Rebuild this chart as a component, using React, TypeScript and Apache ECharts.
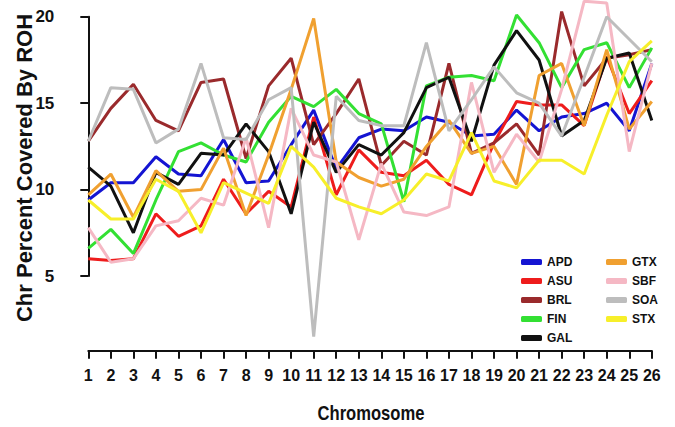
import React, { useEffect, useRef } from "react";
import * as echarts from "echarts";

const chromosomes = Array.from({ length: 26 }, (_, i) => String(i + 1));
const yTicks = [5, 10, 15, 20];

const APD = [9.4, 10.4, 10.4, 11.9, 10.9, 10.8, 12.9, 10.4, 10.5, 12.6, 14.6, 11.2, 13.0, 13.5, 13.4, 14.2, 13.9, 13.1, 13.2, 14.6, 13.4, 14.2, 14.4, 15.0, 13.4, 17.3];
const ASU = [6.0, 5.9, 6.0, 8.6, 7.3, 7.9, 10.6, 8.6, 9.9, 9.0, 14.2, 9.7, 12.3, 11.0, 10.8, 11.7, 10.3, 9.7, 12.7, 15.1, 14.9, 14.9, 13.7, 17.7, 14.4, 16.3];
const BRL = [12.8, 14.7, 16.1, 14.0, 13.4, 16.2, 16.4, 11.8, 16.0, 17.6, 12.6, 14.4, 16.4, 11.4, 12.8, 12.0, 17.3, 12.1, 12.7, 13.8, 12.0, 20.3, 16.0, 17.6, 17.8, 18.1];
const FIN = [6.6, 7.7, 6.3, 9.4, 12.2, 12.7, 12.0, 11.6, 13.9, 15.4, 14.8, 15.8, 14.4, 13.8, 9.3, 16.0, 16.5, 16.6, 16.3, 20.1, 18.5, 15.9, 18.1, 18.5, 15.9, 18.2];
const GAL = [11.3, 10.2, 7.5, 11.0, 10.3, 12.1, 12.0, 13.8, 12.2, 8.6, 13.9, 11.0, 12.6, 12.0, 13.3, 15.9, 16.5, 12.8, 17.2, 19.2, 17.5, 13.1, 14.0, 17.6, 17.9, 14.0];
const GTX = [9.7, 10.9, 8.4, 11.1, 9.9, 10.0, 12.4, 8.5, 12.0, 15.8, 19.9, 11.6, 10.7, 10.2, 10.6, 12.5, 14.0, 12.1, 12.5, 10.3, 16.6, 17.3, 13.7, 18.1, 13.5, 15.1];
const SBF = [7.8, 5.8, 6.0, 7.9, 8.2, 9.5, 9.1, 13.0, 7.8, 14.7, 12.0, 11.6, 7.1, 11.5, 8.7, 8.5, 9.0, 16.2, 11.0, 13.2, 11.6, 15.8, 20.9, 20.8, 12.2, 17.3];
const SOA = [12.8, 15.9, 15.8, 12.7, 13.5, 17.3, 13.0, 12.9, 15.2, 15.9, 1.5, 15.4, 14.0, 13.7, 13.7, 18.5, 13.4, 15.2, 17.1, 15.6, 15.0, 13.1, 16.5, 20.0, 18.7, 17.4];
const STX = [9.4, 8.3, 8.3, 10.6, 9.9, 7.5, 10.4, 9.8, 9.2, 12.5, 11.3, 9.5, 9.0, 8.6, 9.4, 10.9, 10.5, 13.3, 10.5, 10.1, 11.7, 11.7, 10.9, 14.3, 17.4, 18.6];

const seriesNames = ["APD", "ASU", "BRL", "FIN", "GAL", "GTX", "SBF", "SOA", "STX"];
const seriesData = [APD, ASU, BRL, FIN, GAL, GTX, SBF, SOA, STX];
const seriesColors = ["#1414d2", "#ee1c1c", "#9a2a2c", "#33e033", "#111111", "#f0a030", "#f5b8c4", "#bdbdbd", "#f7ef2a"];

const FONT = "'Liberation Sans', Arial, sans-serif";

export default function App() {
  const ref = useRef<HTMLDivElement>(null);
  useEffect(() => {
    if (!ref.current) return;
    const chart = echarts.init(ref.current, undefined, { renderer: "svg" });
    const legendText = { fontFamily: FONT, fontWeight: "bold", fontSize: 12, color: "#111", lineHeight: 14 };
    const legendBase = {
      orient: "vertical",
      top: 255,
      padding: 0,
      icon: "roundRect",
      itemWidth: 21,
      itemHeight: 6,
      itemGap: 5,
      textStyle: legendText,
    };
    chart.setOption({
      animation: false,
      backgroundColor: "#ffffff",
      grid: [
        { left: 88.3, right: 23.2, top: 0, bottom: 76.3 },
        { left: 88.3, right: 23.2, top: 16.7, bottom: 151 },
      ],
      xAxis: [
        {
          gridIndex: 0,
          type: "category",
          data: chromosomes,
          boundaryGap: false,
          axisLine: { show: true, lineStyle: { color: "#111", width: 2 } },
          axisTick: { show: true, length: 8, lineStyle: { color: "#111", width: 2 } },
          axisLabel: { fontFamily: FONT, fontWeight: "bold", fontSize: 16, color: "#111", margin: 17, interval: 0 },
          splitLine: { show: false },
        },
        { gridIndex: 1, type: "value", min: 0, max: 1, show: false },
      ],
      yAxis: [
        { gridIndex: 0, type: "value", min: 0.68, max: 20.97, show: false },
        {
          gridIndex: 1,
          type: "value",
          min: yTicks[0],
          max: yTicks[yTicks.length - 1],
          interval: 5,
          offset: 21,
          axisLine: { show: true, lineStyle: { color: "#111", width: 2 } },
          axisTick: { show: true, length: 8, lineStyle: { color: "#111", width: 2 } },
          axisLabel: { fontFamily: FONT, fontWeight: "bold", fontSize: 17, color: "#111", margin: 13 },
          splitLine: { show: false },
        },
      ],
      legend: [
        { ...legendBase, data: seriesNames.slice(0, 5), left: 521 },
        { ...legendBase, data: seriesNames.slice(5), left: 606 },
      ],
      graphic: [
        {
          type: "text",
          x: 24,
          y: 168,
          rotation: Math.PI / 2,
          style: {
            text: "Chr Percent Covered By ROH",
            fontFamily: FONT,
            fontWeight: "bold",
            fontSize: 22,
            fill: "#111",
            align: "center",
            verticalAlign: "middle",
          },
        },
        {
          type: "text",
          x: 371,
          y: 413,
          scaleX: 0.83,
          style: {
            text: "Chromosome",
            fontFamily: FONT,
            fontWeight: "bold",
            fontSize: 20,
            fill: "#111",
            align: "center",
            verticalAlign: "middle",
          },
        },
      ],
      series: seriesNames.map((name, i) => ({
        name,
        type: "line",
        xAxisIndex: 0,
        yAxisIndex: 0,
        data: seriesData[i],
        showSymbol: false,
        symbol: "none",
        clip: false,
        color: seriesColors[i],
        lineStyle: { color: seriesColors[i], width: 3 },
        itemStyle: { color: seriesColors[i] },
      })),
    });
    return () => chart.dispose();
  }, []);
  return (
    <div
      ref={ref}
      style={{ position: "fixed", left: 0, top: 0, width: 675, height: 427, background: "#fff" }}
    />
  );
}
